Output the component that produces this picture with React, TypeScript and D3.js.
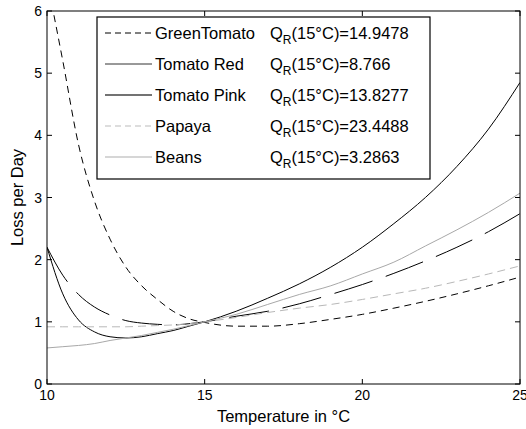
import * as d3 from "d3";

// temperatures (°C) where the curves were read
const temps = [10, 10.5, 11, 11.5, 12, 12.5, 13, 13.5, 14, 14.5, 15, 16, 17, 18, 19, 20, 21, 22, 23, 24, 25];

const greenTomato = [6.5, 5.2, 3.85, 2.95, 2.33, 1.88, 1.58, 1.36, 1.17, 1.05, 0.99, 0.93, 0.93, 0.97, 1.04, 1.12, 1.22, 1.33, 1.45, 1.58, 1.72];
const tomatoRed = [2.2, 1.45, 1.03, 0.84, 0.76, 0.74, 0.76, 0.81, 0.86, 0.93, 1.0, 1.17, 1.38, 1.61, 1.88, 2.2, 2.58, 3.0, 3.5, 4.1, 4.85];
const tomatoPink = [2.2, 1.75, 1.44, 1.24, 1.11, 1.02, 0.98, 0.96, 0.95, 0.97, 1.0, 1.09, 1.17, 1.29, 1.44, 1.6, 1.78, 1.98, 2.2, 2.45, 2.74];
const papaya = [0.92, 0.92, 0.92, 0.92, 0.92, 0.92, 0.93, 0.94, 0.95, 0.97, 1.0, 1.07, 1.15, 1.22, 1.28, 1.36, 1.45, 1.54, 1.65, 1.77, 1.9];
const beans = [0.58, 0.6, 0.62, 0.65, 0.7, 0.74, 0.78, 0.83, 0.88, 0.94, 1.0, 1.12, 1.28, 1.44, 1.58, 1.77, 1.96, 2.22, 2.48, 2.76, 3.07];

const names = ["GreenTomato", "Tomato Red", "Tomato Pink", "Papaya", "Beans"];
const qValues = ["14.9478", "8.766", "13.8277", "23.4488", "3.2863"];

const xTicks = [10, 15, 20, 25];
const yTicks = [0, 1, 2, 3, 4, 5, 6];

const W = 526;
const H = 429;
const FONT = "'Liberation Sans', Arial, Helvetica, sans-serif";

const plotStyle = [
  { stroke: "#000", dash: "7,5", width: 1 },
  { stroke: "#000", dash: "", width: 1 },
  { stroke: "#000", dash: "40,14", width: 1 },
  { stroke: "#b8b8b8", dash: "8,5", width: 1 },
  { stroke: "#a8a8a8", dash: "", width: 1 },
];
const legendStyle = [
  { stroke: "#000", dash: "6,4", width: 1 },
  { stroke: "#333", dash: "", width: 1 },
  { stroke: "#444", dash: "", width: 1.6 },
  { stroke: "#bbb", dash: "6,4", width: 1 },
  { stroke: "#c8c8c8", dash: "", width: 1.6 },
];

export default function App() {
  const m = { left: 47, right: 520, top: 11, bottom: 384 };
  const x = d3.scaleLinear().domain([10, 25]).range([m.left, m.right]);
  const y = d3.scaleLinear().domain([0, 6]).range([m.bottom, m.top]);

  const series = [greenTomato, tomatoRed, tomatoPink, papaya, beans];
  const line = d3
    .line<number>()
    .x((_, i) => x(temps[i]))
    .y((d) => y(d))
    .curve(d3.curveMonotoneX);

  const tick = 5;
  const legend = { x0: 97, x1: 430, y0: 17, y1: 179, row0: 33, step: 31 };

  return (
    <svg
      width={W}
      height={H}
      style={{ position: "absolute", left: 0, top: 0, background: "#fff" }}
      fontFamily={FONT}
    >
      <defs>
        <clipPath id="plot">
          <rect x={m.left} y={m.top} width={m.right - m.left} height={m.bottom - m.top} />
        </clipPath>
      </defs>
      <rect x={0} y={0} width={W} height={H} fill="#fff" />

      {/* curves */}
      <g clipPath="url(#plot)">
        {series.map((s, i) => (
          <path
            key={i}
            d={line(s) ?? ""}
            fill="none"
            stroke={plotStyle[i].stroke}
            strokeWidth={plotStyle[i].width}
            strokeDasharray={plotStyle[i].dash || undefined}
          />
        ))}
      </g>

      {/* frame + ticks */}
      <rect
        x={m.left}
        y={m.top}
        width={m.right - m.left}
        height={m.bottom - m.top}
        fill="none"
        stroke="#000"
        strokeWidth={1}
      />
      {xTicks.map((t) => (
        <g key={"x" + t}>
          <line x1={x(t)} x2={x(t)} y1={m.bottom} y2={m.bottom - tick} stroke="#000" />
          <line x1={x(t)} x2={x(t)} y1={m.top} y2={m.top + tick} stroke="#000" />
          <text x={x(t)} y={400} fontSize={14} textAnchor="middle">
            {t}
          </text>
        </g>
      ))}
      {yTicks.map((t) => (
        <g key={"y" + t}>
          <line x1={m.left} x2={m.left + tick} y1={y(t)} y2={y(t)} stroke="#000" />
          <line x1={m.right} x2={m.right - tick} y1={y(t)} y2={y(t)} stroke="#000" />
          <text x={42} y={y(t) + 5} fontSize={14} textAnchor="end">
            {t}
          </text>
        </g>
      ))}

      <text x={(m.left + m.right) / 2} y={422} fontSize={16.5} textAnchor="middle">
        Temperature in °C
      </text>
      <text
        transform={`translate(23,${(m.top + m.bottom) / 2}) rotate(-90)`}
        fontSize={16.5}
        textAnchor="middle"
      >
        Loss per Day
      </text>

      {/* legend */}
      <rect
        x={legend.x0}
        y={legend.y0}
        width={legend.x1 - legend.x0}
        height={legend.y1 - legend.y0}
        fill="#fff"
        stroke="#000"
        strokeWidth={1.2}
      />
      {names.map((n, i) => {
        const cy = legend.row0 + i * legend.step;
        return (
          <g key={n}>
            <line
              x1={105}
              x2={152}
              y1={cy}
              y2={cy}
              stroke={legendStyle[i].stroke}
              strokeWidth={legendStyle[i].width}
              strokeDasharray={legendStyle[i].dash || undefined}
            />
            <text x={155} y={cy + 6} fontSize={16.5}>
              {n}
            </text>
            <text x={270} y={cy + 6} fontSize={16.5}>
              Q
              <tspan fontSize={12} dy={5}>
                R
              </tspan>
              <tspan dy={-5}>(15°C)={qValues[i]}</tspan>
            </text>
          </g>
        );
      })}
    </svg>
  );
}
